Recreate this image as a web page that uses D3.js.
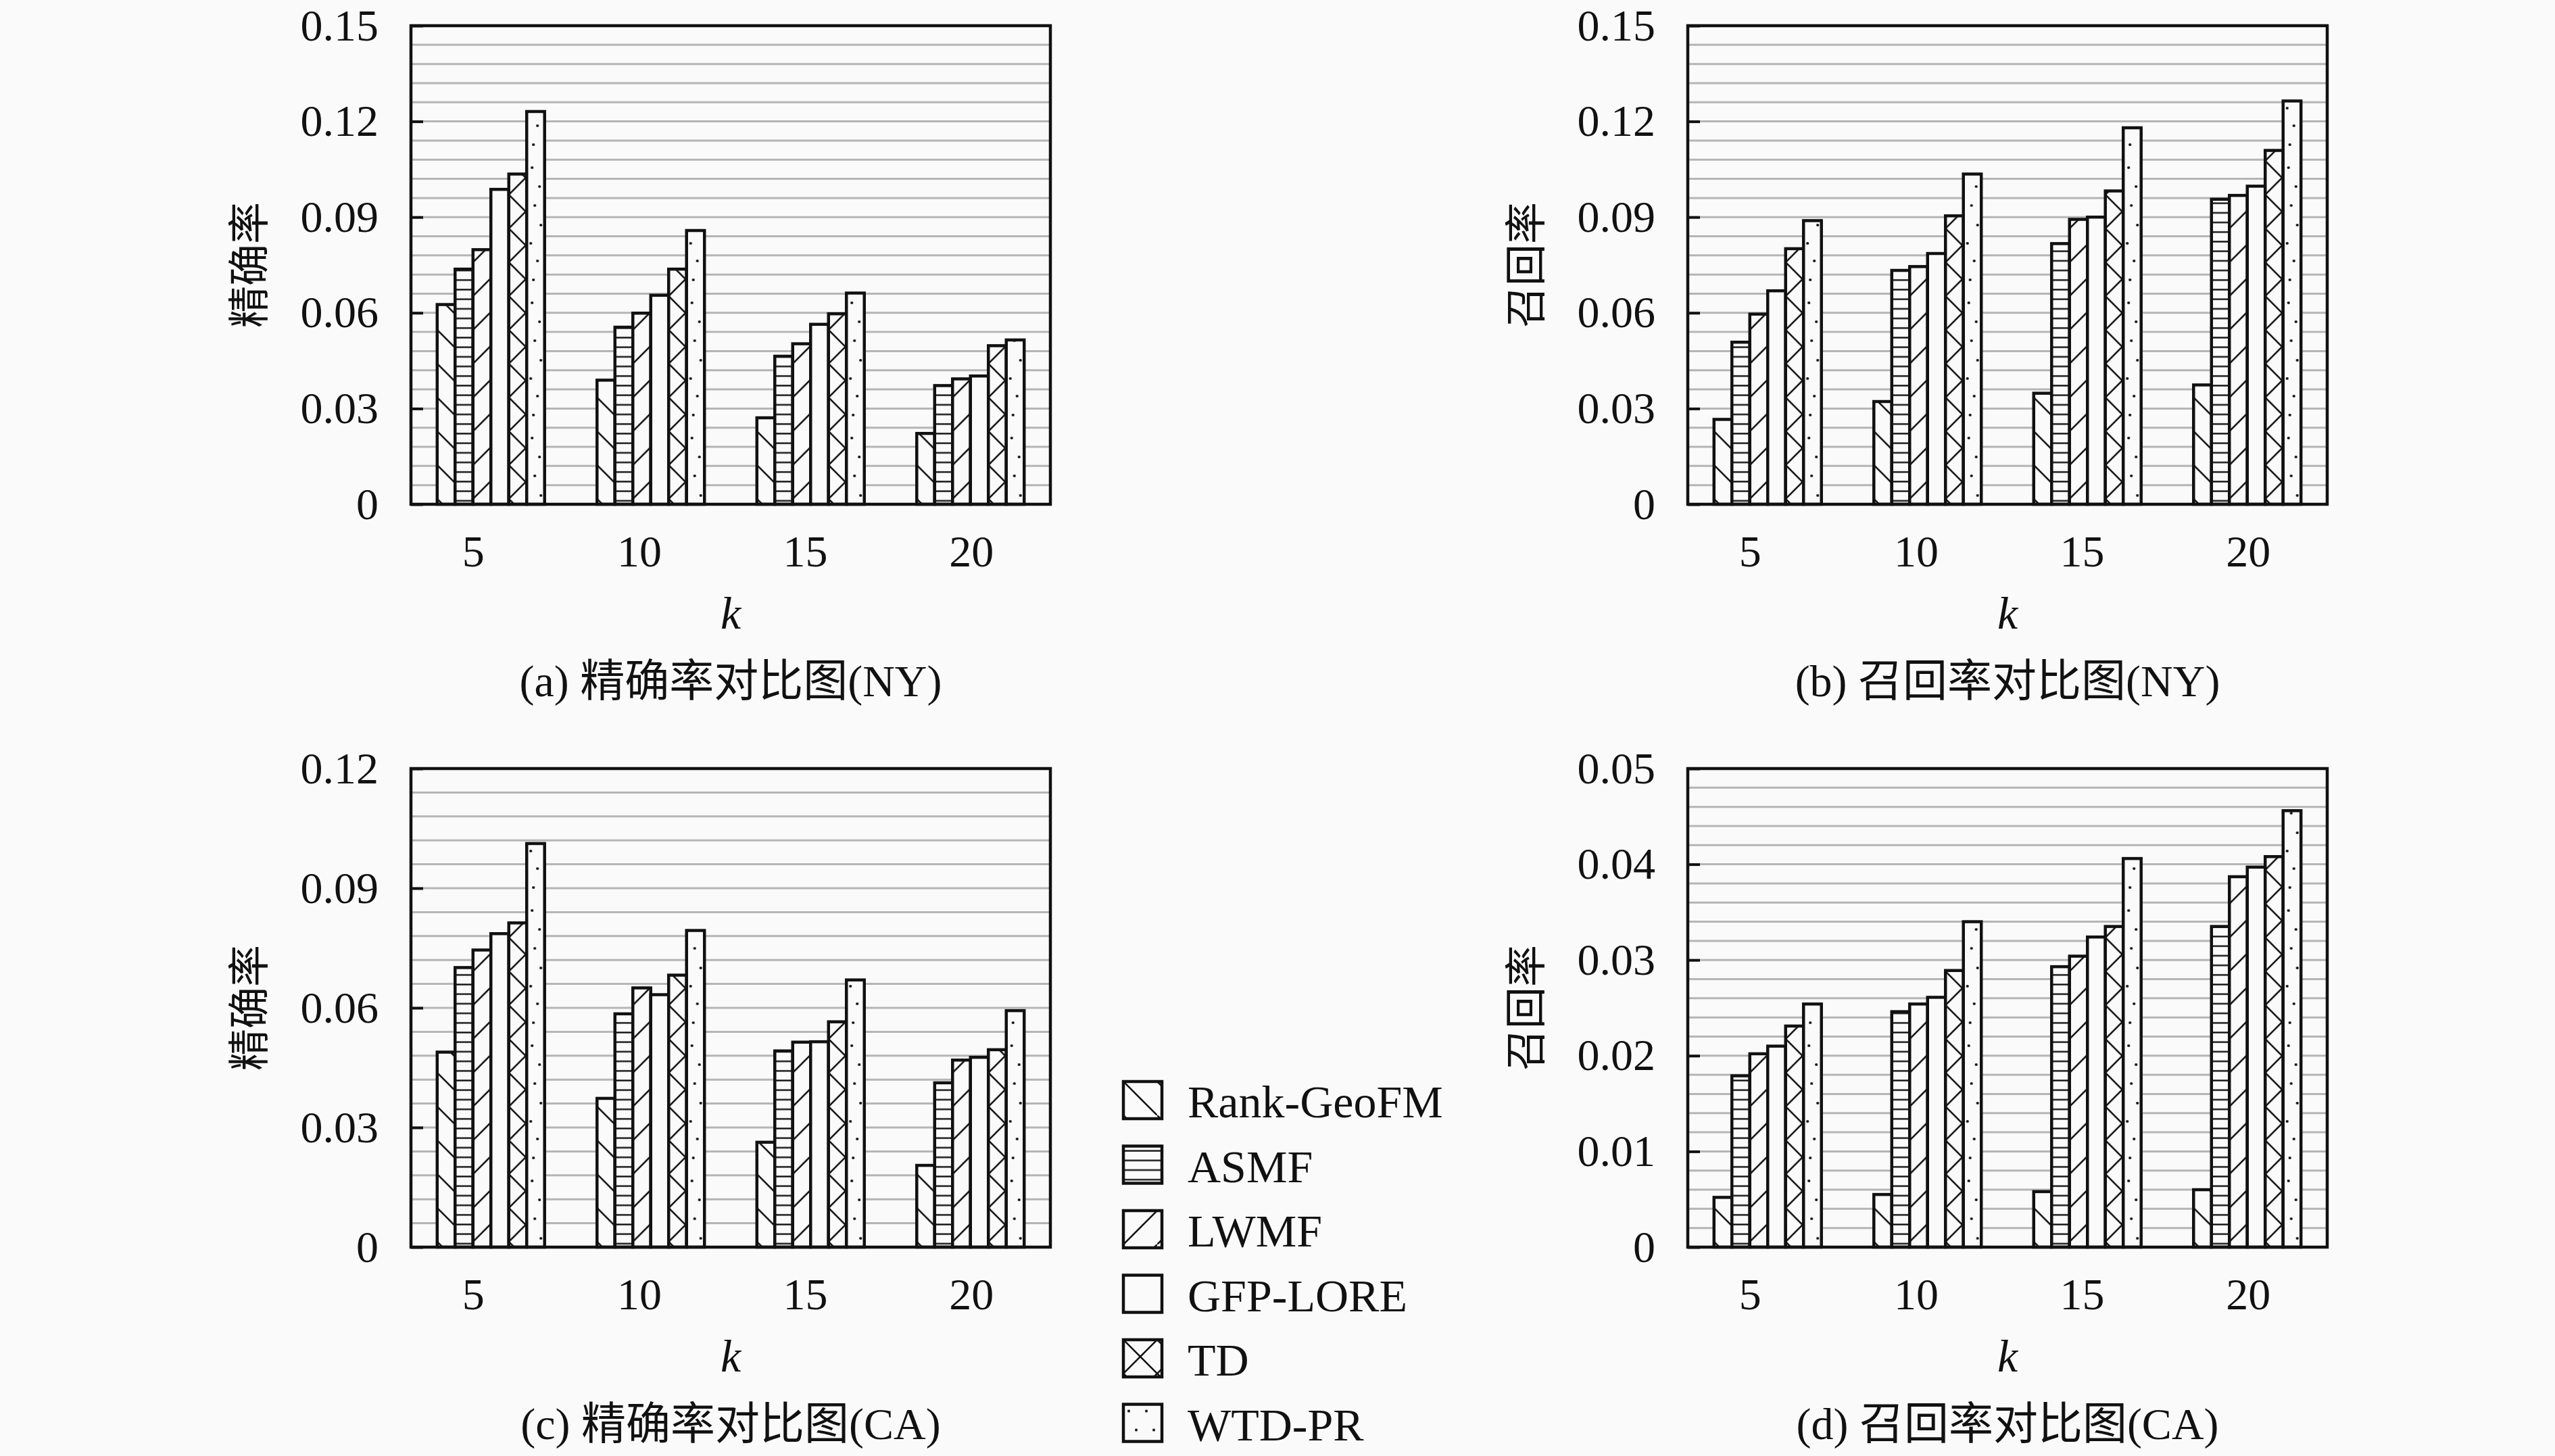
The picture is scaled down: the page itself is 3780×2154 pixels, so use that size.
<!DOCTYPE html>
<html>
<head>
<meta charset="utf-8">
<script src="https://cdn.jsdelivr.net/npm/d3@7"></script>
<style>
  body { margin: 0; background: #fafafa; }
  text { font-family: "Liberation Serif", "Noto Sans CJK SC", serif; fill: #111; }
</style>
</head>
<body>
<svg id="chart" width="3780" height="2154"></svg>
<script>
// categories
const ks = [5, 10, 15, 20];
const methods = ['Rank-GeoFM', 'ASMF', 'LWMF', 'GFP-LORE', 'TD', 'WTD-PR'];

// values, one row per method (same order as methods), one column per k
const precisionNY = [
  [0.0626, 0.0389, 0.0271, 0.0222],
  [0.0737, 0.0555, 0.0464, 0.0372],
  [0.0798, 0.0599, 0.0503, 0.0393],
  [0.0987, 0.0655, 0.0564, 0.0402],
  [0.1035, 0.0737, 0.0597, 0.0497],
  [0.1231, 0.0858, 0.0662, 0.0515]
];
const recallNY = [
  [0.0266, 0.0322, 0.0348, 0.0374],
  [0.0508, 0.0733, 0.0817, 0.0956],
  [0.0596, 0.0745, 0.0893, 0.0968],
  [0.0669, 0.0786, 0.0900, 0.0997],
  [0.0801, 0.0904, 0.0982, 0.1109],
  [0.0889, 0.1035, 0.1180, 0.1264]
];
const precisionCA = [
  [0.0489, 0.0373, 0.0263, 0.0205],
  [0.0701, 0.0585, 0.0492, 0.0412],
  [0.0745, 0.0650, 0.0514, 0.0469],
  [0.0786, 0.0633, 0.0515, 0.0476],
  [0.0813, 0.0682, 0.0565, 0.0495],
  [0.1012, 0.0794, 0.0670, 0.0593]
];
const recallCA = [
  [0.0052, 0.0055, 0.0058, 0.0060],
  [0.0179, 0.0246, 0.0293, 0.0335],
  [0.0202, 0.0254, 0.0304, 0.0387],
  [0.0210, 0.0261, 0.0324, 0.0397],
  [0.0231, 0.0289, 0.0335, 0.0408],
  [0.0254, 0.0340, 0.0406, 0.0456]
];

// tick labels
const ticksNY = [0, 0.03, 0.06, 0.09, 0.12, 0.15];
const ticksPrecCA = [0, 0.03, 0.06, 0.09, 0.12];
const ticksRecCA = [0, 0.01, 0.02, 0.03, 0.04, 0.05];

const BG = '#fafafa';
const plotW = 946, plotH = 708;

const panels = [
  { data: precisionNY, ticks: ticksNY, minor: 0.006, ylabel: '精确率', caption: '(a) 精确率对比图(NY)', x: 608, y: 38 },
  { data: recallNY, ticks: ticksNY, minor: 0.006, ylabel: '召回率', caption: '(b) 召回率对比图(NY)', x: 2497, y: 38 },
  { data: precisionCA, ticks: ticksPrecCA, minor: 0.006, ylabel: '精确率', caption: '(c) 精确率对比图(CA)', x: 608, y: 1137 },
  { data: recallCA, ticks: ticksRecCA, minor: 0.002, ylabel: '召回率', caption: '(d) 召回率对比图(CA)', x: 2497, y: 1137 }
];

const svg = d3.select('#chart');
svg.append('rect').attr('width', 3780).attr('height', 2154).attr('fill', BG);

// hatch patterns
const defs = svg.append('defs');
const patternIds = ['p-rank', 'p-asmf', 'p-lwmf', 'p-gfp', 'p-td', 'p-wtd'];

const makePattern = (id, w, h) => {
  const p = defs.append('pattern')
    .attr('id', id)
    .attr('patternUnits', 'userSpaceOnUse')
    .attr('width', w)
    .attr('height', h);
  p.append('rect').attr('width', w).attr('height', h).attr('fill', BG);
  return p;
};
const hatch = (p, d) => p.append('path')
  .attr('d', d)
  .attr('stroke', '#111')
  .attr('stroke-width', 2.6)
  .attr('fill', 'none');

hatch(makePattern('p-rank', 50, 50), 'M-5,-5L55,55');
hatch(makePattern('p-asmf', 50, 14.2), 'M0,7.1L50,7.1');
hatch(makePattern('p-lwmf', 50, 50), 'M-5,55L55,-5');
makePattern('p-gfp', 50, 50);
hatch(makePattern('p-td', 50, 50), 'M-5,-5L55,55M-5,55L55,-5');
const dots = makePattern('p-wtd', 26, 200);
[[8, 10], [19, 38], [12, 66], [21, 95], [6, 122], [16, 148], [10, 176]]
  .forEach(([cx, cy]) => dots.append('circle').attr('cx', cx).attr('cy', cy).attr('r', 2.1).attr('fill', '#111'));

panels.forEach(pan => {
  const g = svg.append('g').attr('transform', `translate(${pan.x},${pan.y})`);
  const yMax = pan.ticks[pan.ticks.length - 1];

  const y = d3.scaleLinear().domain([0, yMax]).range([plotH, 0]);
  const x0 = d3.scaleBand().domain(ks).range([0, plotW]).paddingInner(0.328).paddingOuter(0.164);
  const x1 = d3.scaleBand().domain(d3.range(methods.length)).range([0, x0.bandwidth()]);
  const xl = d3.scalePoint().domain(ks).range([plotW * 0.097, plotW * 0.876]);

  // minor gridlines
  const nGrid = Math.round(yMax / pan.minor);
  g.append('g')
    .selectAll('line')
    .data(d3.range(1, nGrid).map(i => i * pan.minor))
    .enter()
    .append('line')
    .attr('x1', 0).attr('x2', plotW)
    .attr('y1', d => y(d)).attr('y2', d => y(d))
    .attr('stroke', '#b5b5b5')
    .attr('stroke-width', 3);

  // bars
  const groups = g.append('g')
    .selectAll('g')
    .data(ks.map((k, j) => ({ k, j })))
    .enter()
    .append('g')
    .attr('transform', d => `translate(${x0(d.k)},0)`);

  groups.selectAll('g')
    .data(d => methods.map((m, i) => ({ i, v: pan.data[i][d.j] })))
    .enter()
    .append('g')
    .attr('transform', d => `translate(${x1(d.i)},0)`)
    .append('rect')
    .attr('x', 0)
    .attr('y', d => y(d.v))
    .attr('width', x1.bandwidth())
    .attr('height', d => y(0) - y(d.v))
    .attr('fill', d => `url(#${patternIds[d.i]})`)
    .attr('stroke', '#111')
    .attr('stroke-width', 4.5);

  // frame
  g.append('rect')
    .attr('width', plotW).attr('height', plotH)
    .attr('fill', 'none')
    .attr('stroke', '#111')
    .attr('stroke-width', 4.5);

  // y axis
  const yAxis = g.append('g')
    .call(d3.axisLeft(y)
      .tickValues(pan.ticks)
      .tickFormat(d3.format('~g'))
      .tickSizeInner(-18)
      .tickSizeOuter(0)
      .tickPadding(48));
  yAxis.select('.domain').remove();
  yAxis.selectAll('line').attr('stroke', '#111').attr('stroke-width', 4);
  yAxis.selectAll('text').attr('font-size', 66).attr('font-family', 'Liberation Serif').attr('fill', '#111');

  // x axis labels
  const xAxis = g.append('g')
    .attr('transform', `translate(0,${plotH})`)
    .call(d3.axisBottom(xl).tickSize(0).tickPadding(45));
  xAxis.select('.domain').remove();
  xAxis.selectAll('text').attr('font-size', 66).attr('font-family', 'Liberation Serif').attr('fill', '#111');

  g.append('text')
    .attr('x', plotW / 2)
    .attr('y', plotH + 184)
    .attr('text-anchor', 'middle')
    .attr('font-size', 68)
    .attr('font-style', 'italic')
    .text('k');

  g.append('text')
    .attr('x', plotW / 2)
    .attr('y', plotH + 284)
    .attr('text-anchor', 'middle')
    .attr('font-size', 66)
    .text(pan.caption);

  g.append('text')
    .attr('transform', `translate(${-238},${plotH / 2}) rotate(-90)`)
    .attr('text-anchor', 'middle')
    .attr('dominant-baseline', 'central')
    .attr('font-family', 'Noto Sans CJK SC')
    .attr('font-size', 62)
    .text(pan.ylabel);
});

// legend
const legend = svg.append('g')
  .attr('class', 'legend')
  .selectAll('g')
  .data(methods)
  .enter()
  .append('g')
  .attr('transform', (d, i) => `translate(1662,${1600 + i * 95.5})`);

legend.append('rect')
  .attr('width', 57)
  .attr('height', 55)
  .attr('fill', (d, i) => `url(#${patternIds[i]})`)
  .attr('stroke', '#111')
  .attr('stroke-width', 4.5);

legend.append('text')
  .attr('x', 95)
  .attr('y', 53)
  .attr('font-size', 68)
  .text(d => d);
</script>
</body>
</html>
